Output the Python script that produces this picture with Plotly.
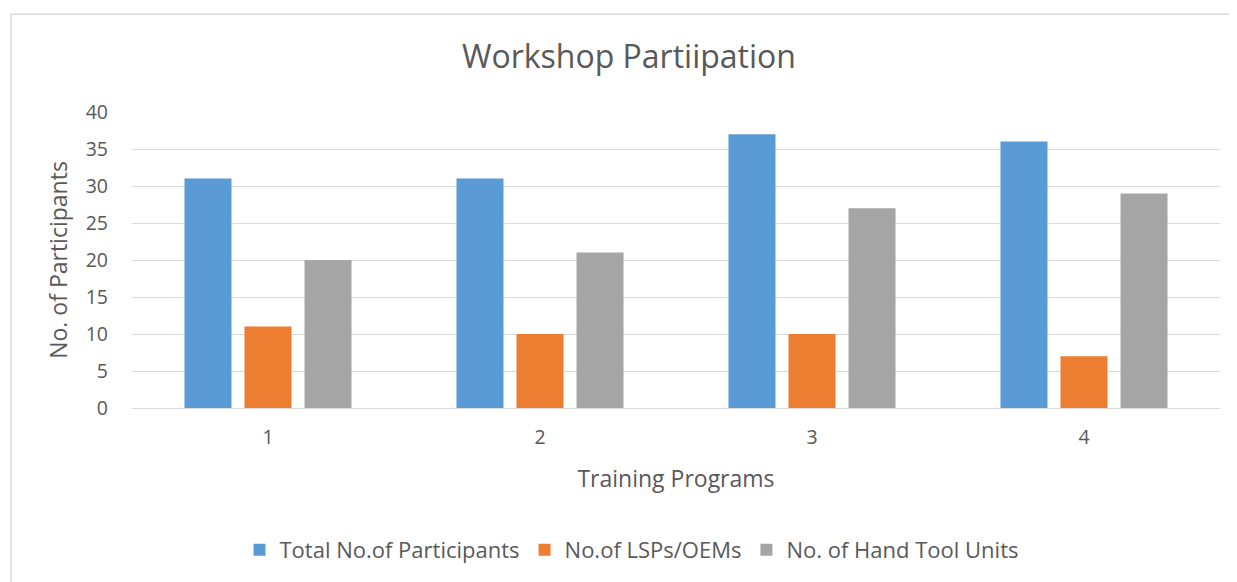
import plotly.graph_objects as go

categories = ["1", "2", "3", "4"]
total_participants = [31, 31, 37, 36]
lsps_oems = [11, 10, 10, 7]
hand_tool_units = [20, 21, 27, 29]
series_names = ["Total No.of Participants", "No.of LSPs/OEMs", "No. of Hand Tool Units"]
y_ticks = [0, 5, 10, 15, 20, 25, 30, 35, 40]

colors = ["#5B9BD5", "#ED7D31", "#A5A5A5"]
text_color = "#595959"
font_family = "Open Sans, Segoe UI, Calibri, sans-serif"

W, H = 1229, 574
L, R, T, B = 124, 17, 104, 173
PW, PH = W - L - R, H - T - B

fig = go.Figure()
for name, vals, col in zip(series_names, [total_participants, lsps_oems, hand_tool_units], colors):
    fig.add_trace(go.Bar(x=categories, y=vals, name=name, marker=dict(color=col, line=dict(width=0))))

border = dict(color="#D9D9D9", width=1.5)
fig.update_layout(
    width=W, height=H,
    margin=dict(l=L, r=R, t=T, b=B),
    paper_bgcolor="white", plot_bgcolor="white",
    font=dict(family=font_family, color=text_color, size=19),
    title=dict(text="Workshop Partiipation", x=(460 + 798) / 2 / 1237 - 4 / W, xanchor="center",
               y=1 - 49 / H, yanchor="middle",
               font=dict(size=32, color=text_color)),
    barmode="group", bargap=0.338, bargroupgap=0.217,
    showlegend=True,
    legend=dict(orientation="h", x=(631.5 - 8 - L) / PW, xanchor="center",
                y=-(542 - (H - B)) / PH, yanchor="middle",
                font=dict(size=22, color=text_color), itemwidth=30, traceorder="normal"),
    xaxis=dict(type="category", showgrid=False, zeroline=False, showline=False, ticks="",
               tickfont=dict(size=19.5), ticklabelstandoff=15,
               title=dict(text="Training Programs", font=dict(size=23), standoff=22)),
    yaxis=dict(range=[0, 40], tickvals=y_ticks, showgrid=True, gridcolor="#D9D9D9", gridwidth=1,
               zeroline=True, zerolinecolor="#D9D9D9", zerolinewidth=1, showline=False,
               ticks="", tickfont=dict(size=19.5), ticklabelstandoff=23,
               title=dict(text="No. of Participants", font=dict(size=23), standoff=11)),
    shapes=[
        dict(type="line", xref="paper", yref="paper",
             x0=(3 - L) / PW, x1=(W + 20 - L) / PW,
             y0=((H - B) - 6) / PH, y1=((H - B) - 6) / PH, line=border, layer="below"),
        dict(type="line", xref="paper", yref="paper",
             x0=(3 - L) / PW, x1=(3 - L) / PW,
             y0=-(H + 20 - (H - B)) / PH, y1=((H - B) - 6) / PH, line=border, layer="below"),
    ],
)

fig.write_html("out.html", config={"displayModeBar": False})
